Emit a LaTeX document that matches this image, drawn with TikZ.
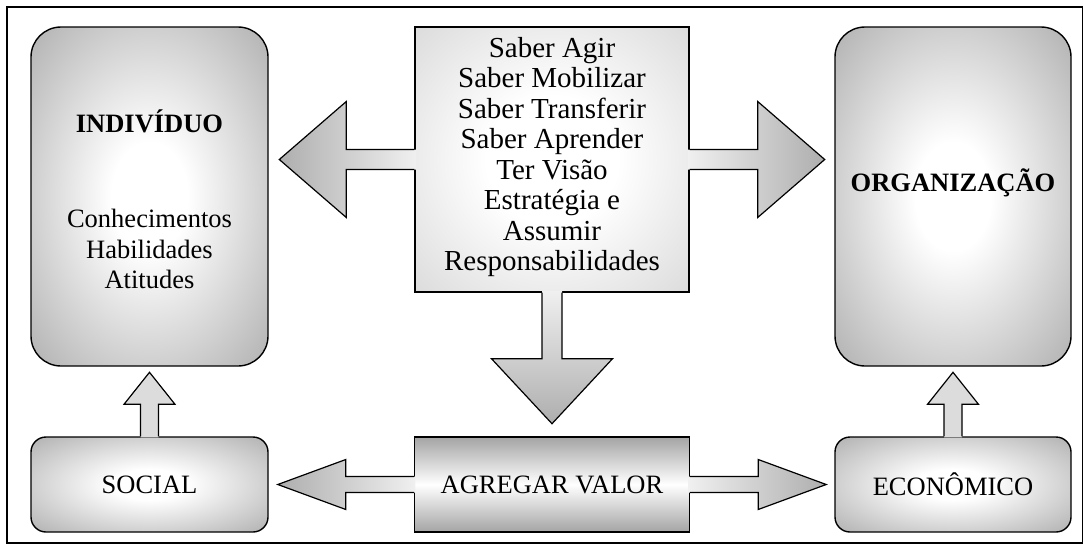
\documentclass[tikz,border=0pt]{standalone}
\usepackage{fontspec}
\setmainfont{Liberation Serif}
\usetikzlibrary{calc}
\definecolor{boxgray}{RGB}{164,164,164}
\definecolor{arrowgray}{RGB}{174,174,174}
\definecolor{palegray}{RGB}{220,220,220}
\pgfdeclareradialshading{boxglow}{\pgfpoint{0bp}{0bp}}{color(0bp)=(white); color(8bp)=(white); color(40bp)=(boxgray); color(50bp)=(boxgray)}
\pgfdeclareradialshading{boxsoft}{\pgfpoint{0bp}{0bp}}{color(0bp)=(white); color(12bp)=(white); color(46bp)=(gray!40); color(50bp)=(gray!40)}

\begin{document}
\begin{tikzpicture}[x=1pt, y=-1pt,
  txt/.style={font=\fontsize{26.5}{30.5}\selectfont, align=center},
  bigtxt/.style={font=\fontsize{29}{30.5}\selectfont, align=center},
  tallbox/.style={draw, line width=1.4pt, rounded corners=30pt, shade, shading=boxglow, minimum width=237pt, minimum height=339pt, inner sep=0pt},
  lowbox/.style={draw, line width=1.4pt, rounded corners=15pt, shade, shading=boxglow, minimum width=237pt, minimum height=95pt, inner sep=0pt, txt},
  blockarrow/.style={line width=1.2pt, line join=miter}]
  \useasboundingbox (0,0) rectangle (1084,544);
  \draw[line width=1.2pt] (7,7) rectangle (1082.5,543);

  % Individual (left)
  \node[tallbox] (ind) at (149.5,196.5) {};
  \node[txt, font=\fontsize{26.5}{30.5}\selectfont\bfseries, anchor=base] (indtitle) at (149.5,132) {INDIVÍDUO};
  \node[txt] (indlist) at (149.5,249) {Conhecimentos\\Habilidades\\Atitudes};

  % Organization (right)
  \node[tallbox, minimum width=236pt] (org) at (953,196.5) {};
  \node[txt, font=\fontsize{26.5}{30.5}\selectfont\bfseries] (orgtitle) at (953,183) {ORGANIZAÇÃO};

  % Competences (centre)
  \node[draw, line width=1.4pt, shade, shading=boxsoft, minimum width=274pt, minimum height=265pt, inner sep=0pt] (cen) at (552,159.5) {};
  \node[bigtxt] (centxt) at (552,157) {Saber Agir\\Saber Mobilizar\\Saber Transferir\\Saber Aprender\\Ter Visão\\Estratégia e\\Assumir\\Responsabilidades};

  % Bottom row
  \node[lowbox] (soc) at (149.5,484.5) {SOCIAL};
  \node[draw, line width=1.4pt, top color=boxgray, bottom color=boxgray, middle color=white, minimum width=275pt, minimum height=95pt, inner sep=0pt, txt] (agr) at (552,484.5) {AGREGAR VALOR};
  \node[lowbox, minimum width=236pt] (eco) at (953,484.5) {ECONÔMICO};

  % Arrows out of the centre box
  \shade[left color=arrowgray, middle color=arrowgray!92!white, right color=gray!12] ($(cen.west)+(1.5,-10)$) -- ++(-69.5,0) -- ++(0,-48) -- ++(-67,58) -- ++(67,58) -- ++(0,-48) -- ++(69.5,0) -- cycle;
  \draw[blockarrow] ($(cen.west)+(0,-10)$) -- ++(-68,0) -- ++(0,-48) -- ++(-67,58) -- ++(67,58) -- ++(0,-48) -- ++(68,0);
  \shade[right color=arrowgray, middle color=arrowgray!92!white, left color=gray!12] ($(cen.east)+(-1.5,-10)$) -- ++(69.5,0) -- ++(0,-48) -- ++(67,58) -- ++(-67,58) -- ++(0,-48) -- ++(-69.5,0) -- cycle;
  \draw[blockarrow] ($(cen.east)+(0,-10)$) -- ++(68,0) -- ++(0,-48) -- ++(67,58) -- ++(-67,58) -- ++(0,-48) -- ++(-68,0);
  \shade[bottom color=arrowgray, middle color=arrowgray!92!white, top color=gray!12] ($(cen.south)+(-10,-1.5)$) -- ++(0,67.5) -- ++(-50.5,0) -- ++(60.5,65) -- ++(60.5,-65) -- ++(-50.5,0) -- ++(0,-67.5) -- cycle;
  \draw[blockarrow] ($(cen.south)+(-10,0)$) -- ++(0,66) -- ++(-50.5,0) -- ++(60.5,65) -- ++(60.5,-65) -- ++(-50.5,0) -- ++(0,-66);

  % Arrows out of "agregar valor"
  \shade[left color=arrowgray, middle color=arrowgray!92!white, right color=gray!12] ($(agr.west)+(1.5,-8)$) -- ++(-69.5,0) -- ++(0,-17) -- ++(-68,25) -- ++(68,25) -- ++(0,-17) -- ++(69.5,0) -- cycle;
  \draw[blockarrow] ($(agr.west)+(0,-8)$) -- ++(-68,0) -- ++(0,-17) -- ++(-68,25) -- ++(68,25) -- ++(0,-17) -- ++(68,0);
  \shade[right color=arrowgray, middle color=arrowgray!92!white, left color=gray!12] ($(agr.east)+(-1.5,-8)$) -- ++(69.5,0) -- ++(0,-17) -- ++(68,25) -- ++(-68,25) -- ++(0,-17) -- ++(-69.5,0) -- cycle;
  \draw[blockarrow] ($(agr.east)+(0,-8)$) -- ++(68,0) -- ++(0,-17) -- ++(68,25) -- ++(-68,25) -- ++(0,-17) -- ++(-68,0);

  % Small arrows upwards
  \fill[palegray] ($(soc.north)+(-9,1)$) -- ++(0,-33) -- ++(-16.5,0) -- ++(25.5,-32) -- ++(25.5,32) -- ++(-16.5,0) -- ++(0,33) -- cycle;
  \draw[blockarrow] ($(soc.north)+(-9,0)$) -- ++(0,-32) -- ++(-16.5,0) -- ++(25.5,-32) -- ++(25.5,32) -- ++(-16.5,0) -- ++(0,32);
  \fill[palegray] ($(eco.north)+(-9,1)$) -- ++(0,-33) -- ++(-16.5,0) -- ++(25.5,-32) -- ++(25.5,32) -- ++(-16.5,0) -- ++(0,33) -- cycle;
  \draw[blockarrow] ($(eco.north)+(-9,0)$) -- ++(0,-32) -- ++(-16.5,0) -- ++(25.5,-32) -- ++(25.5,32) -- ++(-16.5,0) -- ++(0,32);
\end{tikzpicture}
\end{document}
